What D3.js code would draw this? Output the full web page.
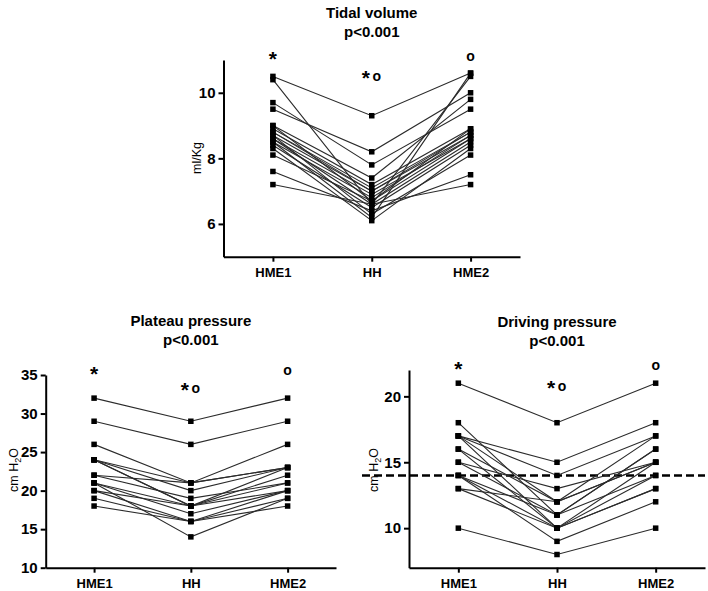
<!DOCTYPE html>
<html>
<head>
<meta charset="utf-8">
<script src="https://cdn.jsdelivr.net/npm/d3@7"></script>
<style>
  html, body { margin: 0; padding: 0; background: #fff; }
  svg { display: block; font-family: "Liberation Sans", Arial, sans-serif; }
</style>
</head>
<body>
<svg id="chart" width="708" height="591"></svg>
<script>
// ---------------- DATA ----------------
const categories = ["HME1", "HH", "HME2"];

// Tidal volume (ml/Kg), one entry per patient
const tidalHME1 = [10.5, 10.4, 9.7, 9.5, 9.0, 8.9, 8.8, 8.7, 8.6, 8.6, 8.5, 8.5, 8.4, 8.3, 8.1, 7.6, 7.2, 8.8, 9.0, 8.7];
const tidalHH   = [9.3, 6.6, 7.8, 8.2, 7.4, 7.2, 7.1, 7.0, 6.9, 6.6, 6.8, 6.2, 6.5, 6.1, 6.7, 6.4, 6.6, 7.0, 6.7, 6.3];
const tidalHME2 = [10.6, 10.5, 9.5, 10.0, 9.8, 8.9, 8.8, 8.7, 8.6, 8.5, 8.7, 10.6, 8.4, 8.3, 8.6, 7.5, 7.2, 8.8, 8.9, 8.1];
const tidalTicks = [6, 8, 10];

// Plateau pressure (cm H2O)
const plateauHME1 = [32, 29, 26, 24, 24, 24, 24, 22, 22, 21, 21, 21, 20, 19, 18, 20];
const plateauHH   = [29, 26, 21, 21, 20, 18, 18, 21, 19, 18, 17, 14, 16, 16, 16, 18];
const plateauHME2 = [32, 29, 26, 23, 23, 23, 22, 23, 21, 20, 20, 19, 20, 19, 18, 21];
const plateauTicks = [10, 15, 20, 25, 30, 35];

// Driving pressure (cm H2O)
const drivingHME1 = [21, 18, 17, 17, 17, 17, 16, 16, 15, 15, 14, 14, 13, 13, 10, 14];
const drivingHH   = [18, 11, 15, 14, 12, 10, 12, 10, 13, 11, 10, 9, 12, 10, 8, 11];
const drivingHME2 = [21, 16, 18, 17, 15, 15, 17, 14, 15, 16, 13, 12, 15, 13, 10, 14];
const drivingTicks = [10, 15, 20];
const drivingThreshold = 14;

const titles = ["Tidal volume", "Plateau pressure", "Driving pressure"];
const pLabel = "p<0.001";
const annotations = ["*", "*o", "o"];

// ---------------- DRAW ----------------
const svg = d3.select("#chart");

function panel(cfg) {
  const g = svg.append("g");
  const x = d3.scalePoint().domain(categories).range(cfg.xr).padding(0.5);
  const y = d3.scaleLinear().domain(cfg.yd).range(cfg.yr);

  const rows = cfg.a.map((v, i) => [cfg.a[i], cfg.b[i], cfg.c[i]]);

  // threshold line
  if (cfg.threshold !== undefined) {
    g.append("line")
      .attr("x1", cfg.thrX[0]).attr("x2", cfg.thrX[1])
      .attr("y1", y(cfg.threshold)).attr("y2", y(cfg.threshold))
      .attr("stroke", "#000").attr("stroke-width", 2.6)
      .attr("stroke-dasharray", "8,4");
  }

  // lines
  const line = d3.line().x((d, i) => x(categories[i])).y(d => y(d));
  g.selectAll("path.subj").data(rows).enter().append("path")
    .attr("class", "subj")
    .attr("d", line)
    .attr("fill", "none")
    .attr("stroke", "#2b2b2b")
    .attr("stroke-width", 1.1);

  // markers
  const pts = [];
  rows.forEach(r => r.forEach((v, i) => pts.push({ c: categories[i], v })));
  const s = 5.5;
  g.selectAll("rect.pt").data(pts).enter().append("rect")
    .attr("class", "pt")
    .attr("x", d => x(d.c) - s / 2)
    .attr("y", d => y(d.v) - s / 2)
    .attr("width", s).attr("height", s)
    .attr("fill", "#000");

  // axes
  const yAxis = d3.axisLeft(y).tickValues(cfg.ticks).tickFormat(d3.format("d"))
    .tickSize(5).tickPadding(3).tickSizeOuter(0);
  const ya = g.append("g").attr("transform", `translate(${cfg.xr[0]},0)`).call(yAxis);
  ya.select(".domain").attr("stroke-width", 2).attr("stroke", "#000");
  ya.selectAll(".tick line").attr("stroke-width", 2);
  ya.selectAll(".tick text").attr("font-size", 15).attr("font-weight", "bold")
    .attr("font-family", "'Liberation Sans', Arial, sans-serif").attr("fill", "#000");

  const xAxis = d3.axisBottom(x).tickSize(5).tickPadding(6).tickSizeOuter(0);
  const xa = g.append("g").attr("transform", `translate(0,${cfg.yr[0]})`).call(xAxis);
  xa.select(".domain").attr("stroke-width", 2).attr("stroke", "#000");
  xa.selectAll(".tick line").attr("stroke-width", 2);
  xa.selectAll(".tick text").attr("font-size", 13).attr("font-weight", "bold")
    .attr("font-family", "'Liberation Sans', Arial, sans-serif").attr("fill", "#000");

  // titles
  const cx = x("HH");
  g.append("text").attr("x", cx).attr("y", cfg.titleY).attr("text-anchor", "middle")
    .attr("font-size", 15).attr("font-weight", "bold").text(cfg.title);
  g.append("text").attr("x", cx).attr("y", cfg.titleY + 18.5).attr("text-anchor", "middle")
    .attr("font-size", 15).attr("font-weight", "bold").text(pLabel);

  // y label
  const yl = g.append("text")
    .attr("transform", `translate(${cfg.ylabX},${cfg.ylabY}) rotate(-90)`)
    .attr("text-anchor", "middle").attr("font-size", 12.5);
  if (cfg.h2o) {
    yl.append("tspan").text("cm H");
    yl.append("tspan").attr("font-size", 9).attr("dy", 3).text("2");
    yl.append("tspan").attr("dy", -3).text("O");
  } else {
    yl.text(cfg.ylab);
  }

  // significance annotations
  categories.forEach((c, i) => {
    const a = annotations[i];
    const yy = cfg.annY[i];
    if (a === "*o") {
      g.append("text").attr("x", x(c) - 6).attr("y", yy + 8).attr("text-anchor", "middle")
        .attr("font-size", 21).attr("font-weight", "bold").text("*");
      g.append("text").attr("x", x(c) + 5).attr("y", yy + 4).attr("text-anchor", "middle")
        .attr("font-size", 14).attr("font-weight", "bold").text("o");
    } else if (a === "*") {
      g.append("text").attr("x", x(c)).attr("y", yy + 8).attr("text-anchor", "middle")
        .attr("font-size", 21).attr("font-weight", "bold").text("*");
    } else {
      g.append("text").attr("x", x(c)).attr("y", yy + 4).attr("text-anchor", "middle")
        .attr("font-size", 14).attr("font-weight", "bold").text("o");
    }
  });
}

panel({
  a: tidalHME1, b: tidalHH, c: tidalHME2, ticks: tidalTicks,
  xr: [223.5, 520], yr: [256.7, 60], yd: [5, 11],
  title: titles[0], titleY: 18, ylab: "ml/Kg", ylabX: 201, ylabY: 158,
  annY: [58, 77, 57]
});

panel({
  a: plateauHME1, b: plateauHH, c: plateauHME2, ticks: plateauTicks,
  xr: [45.7, 336], yr: [567.7, 375], yd: [10, 35],
  title: titles[1], titleY: 326, h2o: true, ylabX: 18, ylabY: 470,
  annY: [373, 389, 371]
});

panel({
  a: drivingHME1, b: drivingHH, c: drivingHME2, ticks: drivingTicks,
  xr: [409, 705], yr: [567.7, 370], yd: [7, 22],
  title: titles[2], titleY: 327, h2o: true, ylabX: 378, ylabY: 470,
  annY: [368, 387, 366],
  threshold: drivingThreshold, thrX: [362, 705]
});
</script>
</body>
</html>
